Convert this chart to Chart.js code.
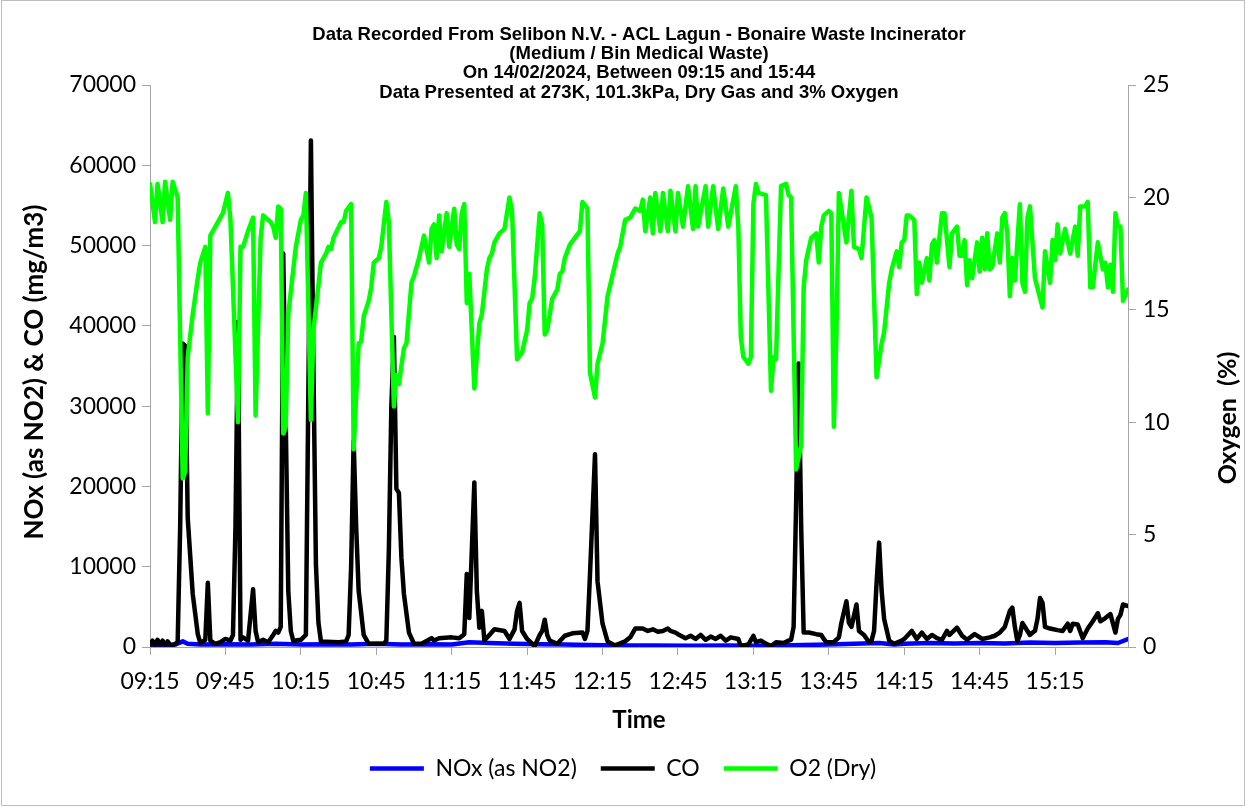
<!DOCTYPE html>
<html>
<head>
<meta charset="utf-8">
<script src="https://cdn.jsdelivr.net/npm/chart.js@4.4.1/dist/chart.umd.min.js"></script>
<style>
html,body{margin:0;padding:0;background:#fff;}
#wrap{width:1246px;height:807px;position:relative;}
canvas{display:block;}
</style>
</head>
<body>
<div id="wrap"><canvas id="c" width="1246" height="807"></canvas></div>
<script>
// ---- Text ----
const titleLines = [
  "Data Recorded From Selibon N.V. - ACL Lagun - Bonaire Waste Incinerator",
  "(Medium / Bin Medical Waste)",
  "On 14/02/2024, Between 09:15 and 15:44",
  "Data Presented at 273K, 101.3kPa, Dry Gas and 3% Oxygen"
];
const xTitle = "Time";
const yTitle = "NOx (as NO2) & CO (mg/m3)";
const y1Title = "Oxygen  (%)";
const seriesNames = ["NOx (as NO2)", "CO", "O2 (Dry)"];

// ---- Time axis: minutes after 09:15, labels every 30 min ----
const startHour = 9, startMinute = 15;
const lastMinute = 389;           // 15:44
const tickStepMinutes = 30;
const yTicks = [0, 10000, 20000, 30000, 40000, 50000, 60000, 70000];
const y1Ticks = [0, 5, 10, 15, 20, 25];

// ---- Series values: [minute after 09:15, value] ----
const noxData = [[0,200],[5,250],[10,300],[13,700],[15,400],[20,300],[30,350],[40,300],[50,400],[60,300],[70,350],[80,300],[90,400],[100,300],[110,350],[120,300],[127,600],[135,500],[145,400],[155,350],[165,300],[175,250],[185,200],[200,200],[215,150],[230,200],[240,150],[250,200],[260,250],[270,300],[280,400],[290,500],[296,300],[300,400],[310,500],[320,450],[330,500],[340,450],[350,550],[360,500],[370,550],[380,600],[385,500],[389,1000]];

const coData = [[0,300],[1,800],[2,200],[3,900],[4,300],[5,800],[6,200],[7,700],[8,300],[9,200],[10,400],[11,600],[12,15000],[13,37800],[14,37500],[15,16100],[17,6600],[19,1600],[20,500],[22,900],[23,8000],[24,800],[26,400],[28,600],[30,1000],[32,800],[33,1500],[34,15000],[35,40500],[36,900],[37,1200],[39,800],[41,7200],[42,2000],[43,600],[45,900],[47,600],[49,1500],[50,2000],[51,1800],[52,2500],[53,49000],[54,28000],[55,7000],[56,2000],[57,750],[60,900],[62,1500],[64,63100],[65,35000],[66,10300],[67,3000],[68,700],[75,600],[78,700],[79,1500],[80,10000],[81,25700],[82,15000],[83,7000],[85,1500],[87,400],[93,400],[94,800],[95,12000],[96,30000],[97,38600],[98,19700],[99,19200],[100,11100],[101,6600],[103,1800],[105,400],[108,400],[112,1100],[113,800],[115,1100],[120,1200],[123,1100],[125,1600],[126,9100],[127,3600],[128,12000],[129,20500],[130,7000],[131,2400],[132,4500],[133,800],[135,1500],[137,2200],[141,2000],[143,1000],[145,2200],[146,4500],[147,5500],[148,2000],[150,1000],[153,100],[155,1500],[156,2000],[157,3400],[158,1500],[159,800],[162,400],[165,1400],[168,1700],[172,1800],[173,1000],[174,2000],[175,9000],[177,24000],[178,8200],[180,2900],[182,700],[185,200],[189,700],[191,1200],[193,2300],[196,2300],[198,2000],[200,2200],[202,1900],[204,2000],[206,2300],[207,2000],[209,1800],[210,1600],[213,1100],[215,1400],[217,1000],[219,1500],[221,900],[223,1300],[225,1000],[227,1400],[229,800],[231,1200],[234,1000],[235,100],[236,200],[238,300],[240,1400],[241,600],[243,800],[244,600],[247,100],[249,600],[252,500],[254,800],[255,900],[256,2500],[257,18000],[258,35300],[259,15000],[260,1800],[262,1800],[265,1600],[267,1500],[268,1000],[269,600],[272,600],[274,1200],[275,3000],[277,5700],[278,3000],[279,2500],[281,5300],[282,2000],[284,1500],[286,600],[287,800],[288,2000],[289,8000],[290,13000],[291,7000],[292,3500],[294,800],[296,400],[299,800],[300,1000],[303,2000],[305,1000],[307,1800],[309,1000],[311,1500],[313,1100],[315,900],[317,2000],[318,1500],[321,2400],[323,1400],[325,900],[328,1600],[331,1000],[334,1200],[336,1400],[338,1800],[340,2500],[342,4500],[343,4900],[344,2500],[345,700],[346,1500],[347,3000],[349,2000],[350,1500],[351,1800],[352,2000],[353,3500],[354,6100],[355,5500],[356,2500],[358,2300],[361,2100],[363,2000],[365,2900],[366,2000],[367,2900],[369,2800],[371,1100],[373,2300],[375,3200],[377,4200],[378,3200],[380,3600],[382,4100],[384,1800],[385,3500],[386,4000],[387,5300],[389,5100]];

const o2Data = [[0,20.6],[2,18.9],[3,20.6],[5,18.9],[6,20.7],[8,19.0],[9,20.7],[11,20.0],[13,7.5],[14,7.8],[15,12.9],[17,14.8],[19,16.4],[20,17.1],[22,17.8],[23,10.4],[24,18.3],[29,19.3],[31,20.2],[32,19.0],[35,10.0],[36,17.8],[37,17.8],[39,18.5],[41,19.1],[42,10.3],[44,18.2],[45,19.2],[48,18.9],[49,18.7],[50,18.2],[51,19.6],[52,19.5],[53,9.5],[54,9.8],[55,14.8],[58,17.8],[60,19.0],[61,19.2],[62,20.2],[64,10.1],[65,14.1],[68,17.1],[70,17.5],[71,17.8],[72,17.7],[73,18.2],[76,18.9],[77,18.9],[78,19.4],[80,19.7],[81,8.8],[83,13.5],[84,13.6],[85,14.7],[87,15.4],[88,16.0],[89,17.1],[91,17.3],[92,17.8],[94,19.8],[95,18.9],[97,10.7],[98,12.1],[99,11.7],[101,13.3],[102,13.5],[104,16.2],[105,16.5],[107,17.3],[109,18.3],[111,17.1],[112,18.6],[113,18.8],[114,17.3],[115,19.2],[116,17.6],[118,19.3],[119,17.8],[121,19.5],[122,17.9],[123,17.7],[124,19.3],[125,19.7],[126,15.3],[127,16.6],[129,11.5],[131,14.4],[132,14.8],[134,16.8],[135,17.3],[136,17.5],[137,18.0],[139,18.4],[141,18.6],[143,20.0],[144,19.4],[146,12.8],[148,13.1],[150,14.1],[151,15.3],[152,15.5],[153,16.4],[155,19.3],[156,18.8],[157,13.9],[158,14.1],[160,15.5],[162,15.9],[163,16.6],[164,16.7],[165,17.3],[167,17.9],[169,18.2],[171,18.5],[172,19.8],[174,19.5],[175,12.2],[177,11.1],[178,12.6],[180,13.5],[182,15.6],[186,17.5],[187,17.8],[189,19.0],[191,19.1],[193,19.5],[195,19.4],[196,19.9],[197,18.5],[199,20.0],[200,18.4],[201,20.2],[203,18.5],[204,20.2],[206,18.5],[207,20.3],[209,18.5],[210,20.2],[212,18.7],[214,20.5],[216,18.6],[217,20.5],[218,18.7],[221,20.5],[222,18.7],[224,20.5],[226,18.6],[228,20.4],[230,18.7],[233,20.5],[234,18.7],[235,13.8],[236,12.9],[238,12.6],[239,12.9],[240,19.7],[241,20.6],[242,20.2],[245,20.1],[247,11.4],[248,12.9],[249,12.8],[251,20.5],[253,20.6],[254,20.1],[255,20.0],[257,7.9],[259,9.0],[260,16.0],[261,17.2],[263,18.2],[265,18.4],[266,17.1],[267,18.7],[268,19.2],[270,19.4],[271,19.3],[272,9.8],[273,13.8],[274,20.2],[277,18.0],[279,20.3],[280,17.8],[282,17.7],[283,17.3],[285,20.0],[287,19.1],[289,12.0],[291,13.5],[292,14.0],[294,16.2],[295,16.8],[297,17.6],[298,16.9],[299,18.0],[300,18.1],[301,19.2],[302,19.2],[304,19.0],[305,15.7],[306,17.1],[307,16.2],[309,17.3],[310,16.3],[311,17.9],[312,18.1],[313,17.1],[315,19.3],[316,19.3],[318,16.9],[319,18.4],[321,18.7],[322,17.4],[323,17.4],[324,18.1],[325,16.1],[326,17.2],[327,16.4],[329,18.0],[330,16.7],[331,18.2],[332,16.8],[333,18.4],[334,16.8],[335,16.9],[337,18.4],[338,17.1],[339,19.1],[340,19.3],[341,18.4],[342,15.6],[343,17.3],[344,16.3],[346,19.7],[347,16.2],[348,15.8],[349,19.1],[350,19.6],[352,16.4],[355,15.1],[356,17.6],[358,16.2],[359,18.1],[360,17.2],[361,18.8],[362,17.5],[364,18.6],[366,17.5],[368,18.7],[369,17.4],[370,19.6],[372,19.6],[373,19.8],[374,16.0],[375,16.0],[377,18.0],[379,16.8],[380,17.1],[381,16.0],[382,17.0],[383,15.8],[384,19.3],[385,18.7],[386,18.7],[387,15.4],[389,15.9]];

// ---- helpers ----
function timeLabel(m) {
  const total = startHour * 60 + startMinute + m;
  const h = Math.floor(total / 60), mm = total % 60;
  return String(h).padStart(2, "0") + ":" + String(mm).padStart(2, "0");
}
const toXY = arr => arr.map(p => ({x: p[0], y: p[1]}));

const tickFont = {family: "Lato, 'Open Sans', sans-serif", size: 23};
const axisColor = "#a6a6a6";

const overlay = {
  id: "overlay",
  beforeDraw(chart) {
    const ctx = chart.ctx;
    ctx.save();
    ctx.fillStyle = "#ffffff";
    ctx.fillRect(0, 0, chart.width, chart.height);
    ctx.restore();
  },
  afterDraw(chart) {
    const ctx = chart.ctx;
    const area = chart.chartArea;
    ctx.save();
    ctx.strokeStyle = "#bfbfbf";
    ctx.lineWidth = 1;
    ctx.strokeRect(1.5, 0.5, chart.width - 3, chart.height - 2);
    ctx.fillStyle = "#000";
    ctx.textAlign = "center";
    ctx.textBaseline = "middle";
    ctx.font = "bold 18.5px 'Liberation Sans Narrow', 'Liberation Sans', Arial, sans-serif";
    const cx = (area.left + area.right) / 2;
    titleLines.forEach((t, i) => ctx.fillText(t, cx, 35 + i * 19.2));
    ctx.font = "bold 24px Lato, 'Open Sans', sans-serif";
    ctx.fillText(xTitle, cx, 720);
    ctx.save();
    ctx.translate(35, 372);
    ctx.rotate(-Math.PI / 2);
    ctx.font = "bold 26px Lato, 'Open Sans', sans-serif";
    ctx.fillText(yTitle, 0, 0);
    ctx.restore();
    ctx.save();
    ctx.translate(1228, 418);
    ctx.rotate(-Math.PI / 2);
    ctx.font = "bold 25px Lato, 'Open Sans', sans-serif";
    ctx.fillText(y1Title, 0, 0);
    ctx.restore();
    ctx.restore();
  }
};

const lineDefaults = {pointRadius: 0, tension: 0, borderWidth: 4.5, borderJoinStyle: "round", borderCapStyle: "round", fill: false};

new Chart(document.getElementById("c"), {
  type: "line",
  data: {
    datasets: [
      Object.assign({label: seriesNames[0], data: toXY(noxData), borderColor: "#0000ff", backgroundColor: "#0000ff", yAxisID: "y", order: 2}, lineDefaults),
      Object.assign({label: seriesNames[1], data: toXY(coData), borderColor: "#000000", backgroundColor: "#000000", yAxisID: "y", order: 1}, lineDefaults),
      Object.assign({label: seriesNames[2], data: toXY(o2Data), borderColor: "#00ff00", backgroundColor: "#00ff00", yAxisID: "y1", order: 0}, lineDefaults)
    ]
  },
  options: {
    responsive: false,
    animation: false,
    devicePixelRatio: 1,
    layout: {padding: {top: 85, bottom: 17, left: 0, right: 0}},
    plugins: {
      title: {display: false},
      tooltip: {enabled: false},
      legend: {
        display: true,
        position: "bottom",
        labels: {
          font: tickFont,
          color: "#000",
          usePointStyle: true,
          pointStyle: "line",
          pointStyleWidth: 54,
          boxWidth: 54,
          padding: 24,
          sort: (a, b) => a.datasetIndex - b.datasetIndex
        }
      }
    },
    scales: {
      x: {
        type: "linear",
        min: 0,
        max: lastMinute,
        afterBuildTicks: s => { s.ticks = s.ticks.filter(t => t.value % tickStepMinutes === 0); },
        afterFit: s => { s.height = 86; },
        ticks: {stepSize: tickStepMinutes, autoSkip: false, maxRotation: 0, minRotation: 0, padding: 13, font: tickFont, color: "#000", callback: v => timeLabel(v)},
        grid: {display: true, drawOnChartArea: false, drawTicks: true, tickLength: 8, color: axisColor},
        border: {display: true, color: axisColor, width: 1}
      },
      y: {
        position: "left",
        min: 0, max: 70000,
        afterBuildTicks: s => { s.ticks = yTicks.map(v => ({value: v})); },
        afterFit: s => { s.width = 150; },
        ticks: {padding: 6, font: tickFont, color: "#000", callback: v => String(v)},
        grid: {display: true, drawOnChartArea: false, drawTicks: true, tickLength: 8, color: axisColor},
        border: {display: true, color: axisColor, width: 1}
      },
      y1: {
        position: "right",
        min: 0, max: 25,
        afterBuildTicks: s => { s.ticks = y1Ticks.map(v => ({value: v})); },
        afterFit: s => { s.width = 118; },
        ticks: {padding: 7, font: tickFont, color: "#000", callback: v => String(v)},
        grid: {display: true, drawOnChartArea: false, drawTicks: true, tickLength: 8, color: axisColor},
        border: {display: true, color: axisColor, width: 1}
      }
    }
  },
  plugins: [overlay]
});
</script>
</body>
</html>
